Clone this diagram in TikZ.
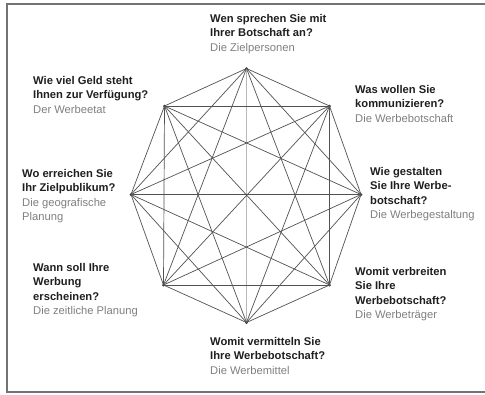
\documentclass[tikz,border=0pt]{standalone}
\usepackage{fontspec}
\setmainfont{Liberation Sans}
\usetikzlibrary{positioning}

\newcommand{\antwort}[1]{{\mdseries\color{black!50}#1}}

\begin{document}
\begin{tikzpicture}[
  x=1pt,y=-1pt,
  vertex/.style={circle,fill=black!80,inner sep=0pt,minimum size=3pt},
  edge/.style={draw=black!68,line width=0.7pt},
  faint/.style={draw=black!28},
  frage/.style={font=\fontsize{11.2}{14.4}\selectfont\bfseries,text=black!88,
                align=left,inner sep=0pt,anchor=north west},
  rahmen/.style={draw=black!55,line width=1.1pt}
]
\clip (0,0) rectangle (485,394);
\useasboundingbox (0,0) rectangle (485,394);
\fill[white] (0,0) rectangle (485,394);

% ---- frame ----
\draw[rahmen] (7,4) rectangle (500,392);

% ---- vertices ----
\node[vertex] (zielp)   at (246.5,68.5) {};
\node[vertex] (botsch)  at (329.5,106)  {};
\node[vertex] (gestalt) at (361,194.5)  {};
\node[vertex] (traeger) at (329.5,285)  {};
\node[vertex] (mittel)  at (246.5,322.5) {};
\node[vertex] (zeit)    at (163.5,285)  {};
\node[vertex] (geo)     at (131,194.5)  {};
\node[vertex] (etat)    at (164.5,106)  {};

% ---- every pair connected ----
\foreach \a [count=\i] in {zielp,botsch,gestalt,traeger,mittel,zeit,geo,etat}
  \foreach \b [count=\j] in {zielp,botsch,gestalt,traeger,mittel,zeit,geo,etat}{
    \ifnum\i<\j
      \ifnum\i\j=15
        \draw[edge,faint] (\a.center) -- (\b.center);
      \else
        \draw[edge] (\a.center) -- (\b.center);
      \fi
    \fi
  }

% ---- questions ----
\node[frage] (tzielp) at (210,14)
  {Wen sprechen Sie mit\\Ihrer Botschaft an?\\\antwort{Die Zielpersonen}};
\node[frage] (tbotsch) at (355,85)
  {Was wollen Sie\\kommunizieren?\\\antwort{Die Werbebotschaft}};
\node[frage] (tgestalt) at (370,167)
  {Wie gestalten\\Sie Ihre Werbe-\\botschaft?\\\antwort{Die Werbegestaltung}};
\node[frage] (ttraeger) at (355,267)
  {Womit verbreiten\\Sie Ihre\\Werbebotschaft?\\\antwort{Die Werbeträger}};
\node[frage] (tmittel) at (210,337)
  {Womit vermitteln Sie\\Ihre Werbebotschaft?\\\antwort{Die Werbemittel}};
\node[frage] (tzeit) at (33,263)
  {Wann soll Ihre\\Werbung\\erscheinen?\\\antwort{Die zeitliche Planung}};
\node[frage] (tgeo) at (22,169)
  {Wo erreichen Sie\\Ihr Zielpublikum?\\\antwort{Die geografische}\\\antwort{Planung}};
\node[frage] (tetat) at (33,76)
  {Wie viel Geld steht\\Ihnen zur Verfügung?\\\antwort{Der Werbeetat}};

\end{tikzpicture}
\end{document}
